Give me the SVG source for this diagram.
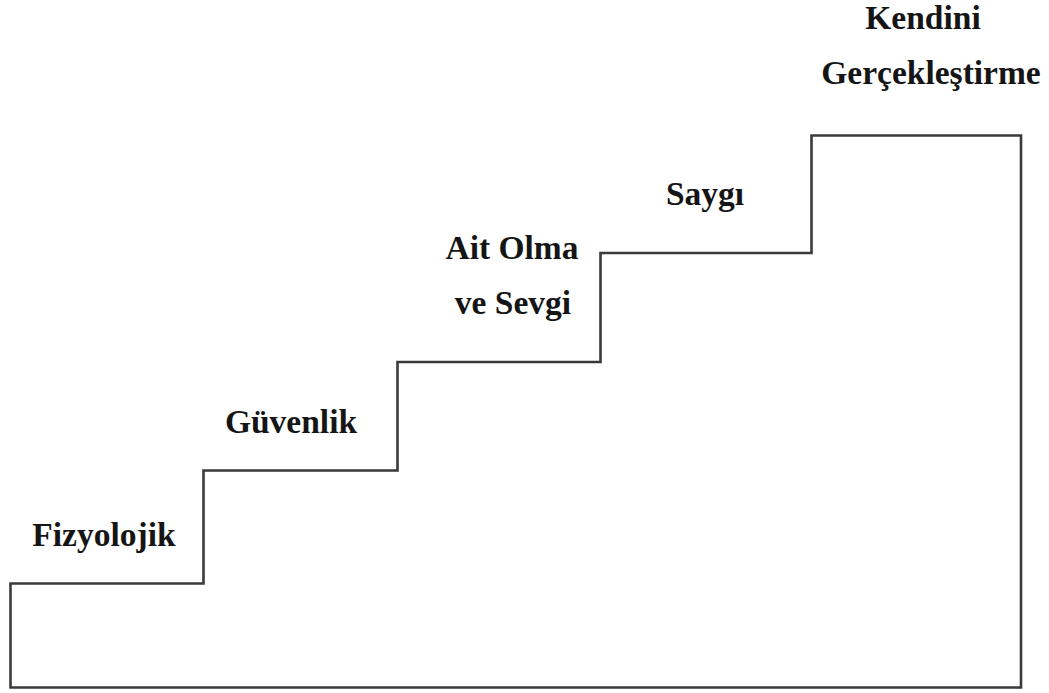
<svg xmlns="http://www.w3.org/2000/svg" width="1049" height="693" viewBox="0 0 1049 693">
<style>
.lbl{font-family:"Liberation Serif","Times New Roman",serif;font-weight:bold;font-size:33.5px;fill:#151515;text-anchor:middle}
.stair{fill:none;stroke:#3a3a3a;stroke-width:2.6;stroke-linejoin:miter}
</style>
<rect width="1049" height="693" fill="#ffffff"/>
<g id="connectors">
<path class="stair" d="M10.5,687.5 V583.5 H203.5 V470.5 H397.5 V362 H600.5 V253 H811.5 V135.5 H1021 V687.5 Z"/>
</g>
<g id="fizyolojik"><text class="lbl" x="104" y="546">Fizyolojik</text></g>
<g id="guvenlik"><text class="lbl" x="291" y="433">Güvenlik</text></g>
<g id="ait-olma"><text class="lbl" x="512" y="259">Ait Olma</text><text class="lbl" x="513" y="314">ve Sevgi</text></g>
<g id="saygi"><text class="lbl" x="705" y="205">Saygı</text></g>
<g id="kendini"><text class="lbl" x="923" y="29">Kendini</text><text class="lbl" x="931" y="84">Gerçekleştirme</text></g>
</svg>
